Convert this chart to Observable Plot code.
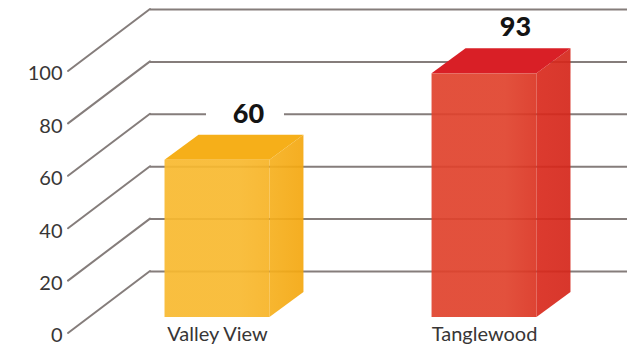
<!DOCTYPE html>
<html>
<head>
<meta charset="utf-8">
<script src="https://cdn.jsdelivr.net/npm/d3@7"></script>
<script src="https://cdn.jsdelivr.net/npm/@observablehq/plot@0.6"></script>
<style>
  html, body { margin: 0; padding: 0; background: #ffffff; }
  #chart svg { display: block; }
</style>
</head>
<body>
<div id="chart"></div>
<script>
// ---- data ----
const categories = ["Valley View", "Tanglewood"];
const values = [60, 93];
const tickValues = [0, 20, 40, 60, 80, 100];
const tickLabels = ["0", "20", "40", "60", "80", "100"];

// ---- styles ----
const FRONT = ["#F8B92F", "#E0422C"];
const FRONT_EDGE = ["#F7B325", "#DB3422"];
const TOP = ["#F6AF19", "#D91F26"];
const SIDE_A = ["#F6B01E", "#D92A1D"];
const SIDE_B = ["#F4A70F", "#D5261A"];
const GRID = "#857d7b";
const BAR_OPACITY = 0.92;
const DEPTH_X = 34, DEPTH_Y = -25;     // bar extrusion (px)
const BACK_DY = -46;                   // back wall offset (px)
const DIAG_X0 = 68, WALL_X0 = 150, WALL_X1 = 627;
const LABEL_DX = DEPTH_X - 3, LABEL_DY = DEPTH_Y - 21;

const data = categories.map((c, i) => ({name: c, value: values[i], i}));
const ticks = tickValues.map((v, i) => ({v, label: tickLabels[i]}));

// defs for gradients
function defs() {
  const svg = d3.create("svg:g");
  const d = svg.append("defs");
  data.forEach(b => {
    const gf = d.append("linearGradient").attr("id", "front" + b.i)
      .attr("x1", "0").attr("x2", "1").attr("y1", "0").attr("y2", "0");
    gf.append("stop").attr("offset", "0").attr("stop-color", FRONT[b.i]);
    gf.append("stop").attr("offset", "0.7").attr("stop-color", FRONT[b.i]);
    gf.append("stop").attr("offset", "1").attr("stop-color", FRONT_EDGE[b.i]);
    const gs = d.append("linearGradient").attr("id", "side" + b.i)
      .attr("x1", "0").attr("x2", "1").attr("y1", "0").attr("y2", "0");
    gs.append("stop").attr("offset", "0").attr("stop-color", SIDE_A[b.i]);
    gs.append("stop").attr("offset", "1").attr("stop-color", SIDE_B[b.i]);
  });
  return svg.node();
}

// perspective grid: diagonals from the labels to the back wall
function grid(index, scales) {
  const {y} = scales;
  const g = d3.create("svg:g")
    .attr("stroke", GRID).attr("stroke-width", 2).attr("fill", "none")
    .attr("stroke-linecap", "round");
  for (const t of ticks) {
    const yb = y(t.v) + BACK_DY;
    const yf = y(t.v) + 16;
    g.append("path").attr("d", `M${DIAG_X0},${yf}L${WALL_X0},${yb}`);
  }
  return g.node();
}

// white knock-out of the wall lines behind each value label
function knockout(index, scales) {
  const {x, y} = scales;
  const bw = x.bandwidth();
  const g = d3.create("svg:g").attr("fill", "white");
  for (const b of data) {
    const cx = x(b.name) + bw / 2 + LABEL_DX;
    const cy = y(b.value) + LABEL_DY;
    g.append("rect").attr("x", cx - 42).attr("y", cy - 7).attr("width", 78).attr("height", 14);
  }
  return g.node();
}

// top and side faces of each bar
function faces(index, scales) {
  const {x, y} = scales;
  const bw = x.bandwidth();
  const g = d3.create("svg:g");
  for (const b of data) {
    const x0 = x(b.name), x1 = x0 + bw;
    const yv = y(b.value), y0 = y(0);
    g.append("path")
      .attr("fill", `url(#side${b.i})`).attr("fill-opacity", BAR_OPACITY)
      .attr("d", `M${x1},${yv}L${x1 + DEPTH_X},${yv + DEPTH_Y}L${x1 + DEPTH_X},${y0 + DEPTH_Y}L${x1},${y0}Z`);
    g.append("path")
      .attr("fill", TOP[b.i])
      .attr("d", `M${x0},${yv}L${x1},${yv}L${x1 + DEPTH_X},${yv + DEPTH_Y}L${x0 + DEPTH_X},${yv + DEPTH_Y}Z`);
  }
  return g.node();
}

const labelFont = "Lato, 'Noto Sans', sans-serif";

const plot = Plot.plot({
  width: 639,
  height: 354,
  marginLeft: WALL_X0,
  marginRight: 639 - WALL_X1,
  marginTop: 0,
  marginBottom: 0,
  style: {background: "transparent", fontFamily: labelFont, overflow: "visible"},
  x: {domain: categories, range: [83.5, 617.5], paddingInner: 0.607, paddingOuter: 0.3034, round: false, axis: null},
  y: {domain: [0, 100], range: [317, 55], axis: null},
  marks: [
    defs,
    Plot.ruleY(ticks, {y: "v", dy: BACK_DY, stroke: GRID, strokeWidth: 2}),
    grid,
    knockout,
    Plot.barY(data, {x: "name", y: "value", fill: d => `url(#front${d.i})`, fillOpacity: BAR_OPACITY}),
    faces,
    Plot.text(data, {
      x: "name", y: "value", text: d => String(d.value),
      dx: LABEL_DX, dy: LABEL_DY,
      fontSize: 27, fontWeight: 900, fill: "#141414"
    }),
    Plot.text(ticks, {
      y: "v", text: "label", frameAnchor: "left", dx: 62 - WALL_X0, dy: 18.5,
      textAnchor: "end", fontSize: 20, fill: "#383636"
    }),
    Plot.text(data, {
      x: "name", text: "name", frameAnchor: "bottom", dy: -14,
      fontSize: 20, fill: "#383636"
    })
  ]
});

document.getElementById("chart").appendChild(plot);
</script>
</body>
</html>
